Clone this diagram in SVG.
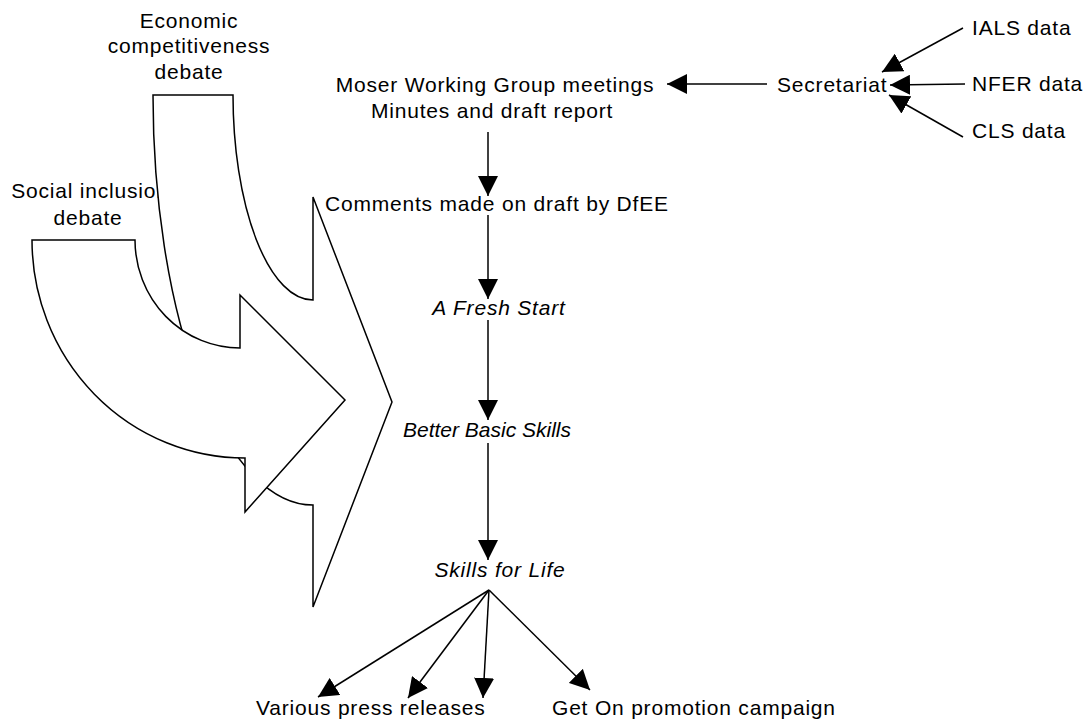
<svg xmlns="http://www.w3.org/2000/svg" width="1084" height="722" viewBox="0 0 1084 722">
  <style>
    text { font-family: "Liberation Sans", Arial, sans-serif; font-size: 21px; fill: #000; letter-spacing: 0.8px; }
    .it { font-style: italic; }
    .tight { letter-spacing: 0; }
    .mid { text-anchor: middle; }
    .bigarrow { fill: #fff; stroke: #000; stroke-width: 1.5; stroke-linejoin: miter; }
    .conn { fill: none; stroke: #000; stroke-width: 1.5; marker-end: url(#head); }
  </style>
  <defs>
    <marker id="head" viewBox="0 0 20 20" refX="20" refY="10" markerWidth="20" markerHeight="20" markerUnits="userSpaceOnUse" orient="auto">
      <path d="M0,0 L20,10 L0,20 Z" fill="#000"/>
    </marker>
  </defs>
  <rect width="1084" height="722" fill="#fff"/>

  <!-- Debate labels and curved block arrows feeding into the process -->
  <g id="social-inclusion-label">
    <text class="mid" x="90" y="198">Social inclusion</text>
    <text class="mid" x="88" y="225">debate</text>
  </g>
  <g id="economic-competitiveness">
    <text class="mid" x="189" y="28">Economic</text>
    <text class="mid" x="189" y="53">competitiveness</text>
    <text class="mid" x="189" y="79">debate</text>
    <path class="bigarrow" d="M153,95 L233,95 A80,205 0 0 0 313,300 L313,197 L392,402 L313,607 L313,505 A160,410 0 0 1 153,95 Z"/>
  </g>
  <g id="social-inclusion">
    <path class="bigarrow" d="M32,240 L135,240 A105,108 0 0 0 240,348 L240,295 L345,400 L245,512 L245,458 A213,218 0 0 1 32,240 Z"/>
  </g>

  <!-- Process nodes -->
  <g id="ials"><text x="972" y="35">IALS data</text></g>
  <g id="nfer"><text x="972" y="91">NFER data</text></g>
  <g id="cls"><text x="972" y="138">CLS data</text></g>
  <g id="secretariat"><text x="777" y="92">Secretariat</text></g>
  <g id="moser">
    <text class="mid" x="495" y="92">Moser Working Group meetings</text>
    <text class="mid" x="492" y="118">Minutes and draft report</text>
  </g>
  <g id="comments"><text x="325" y="211">Comments made on draft by DfEE</text></g>
  <g id="fresh-start"><text class="it mid" x="499" y="315">A Fresh Start</text></g>
  <g id="better-basic-skills"><text class="it mid tight" x="487" y="437">Better Basic Skills</text></g>
  <g id="skills-for-life"><text class="it mid" x="500" y="577">Skills for Life</text></g>
  <g id="press-releases"><text x="256" y="715">Various press releases</text></g>
  <g id="get-on"><text x="552" y="715">Get On promotion campaign</text></g>

  <!-- Connectors -->
  <g id="connectors">
    <line class="conn" x1="767" y1="84" x2="667" y2="84"/>
    <line class="conn" x1="963" y1="28" x2="882" y2="72"/>
    <line class="conn" x1="965" y1="84" x2="890" y2="85"/>
    <line class="conn" x1="963" y1="137" x2="889" y2="95"/>
    <line class="conn" x1="488" y1="132" x2="488" y2="196"/>
    <line class="conn" x1="488" y1="215" x2="488" y2="299"/>
    <line class="conn" x1="488" y1="320" x2="488" y2="420"/>
    <line class="conn" x1="488" y1="443" x2="488" y2="560"/>
    <line class="conn" x1="489" y1="590" x2="318" y2="697"/>
    <line class="conn" x1="489" y1="590" x2="408" y2="698"/>
    <line class="conn" x1="489" y1="590" x2="483" y2="698"/>
    <line class="conn" x1="489" y1="590" x2="590" y2="690"/>
  </g>
</svg>
